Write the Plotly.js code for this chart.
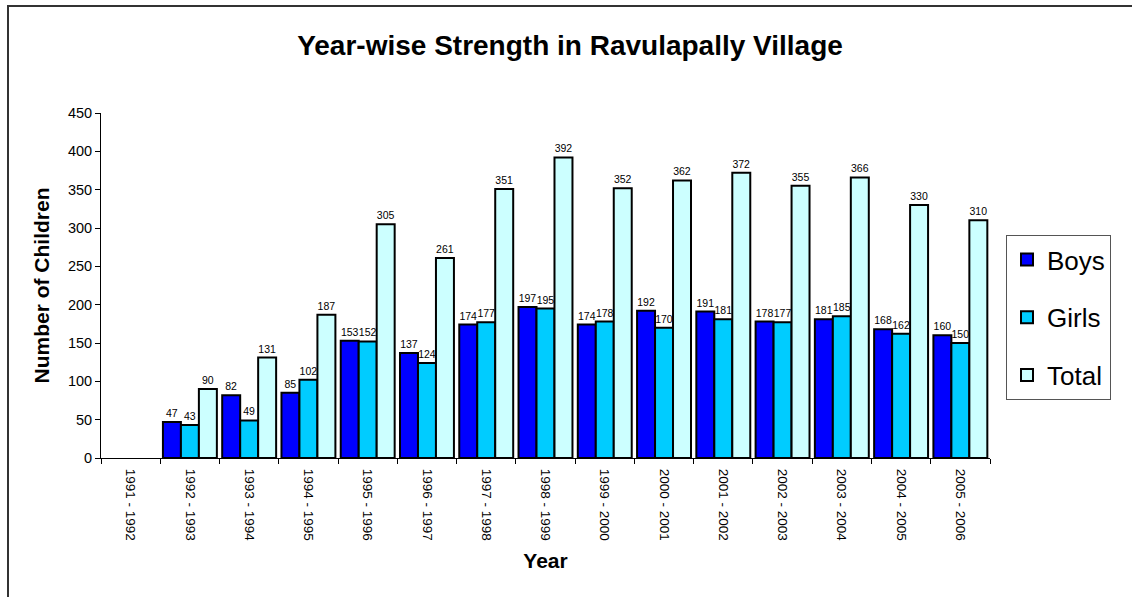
<!DOCTYPE html>
<html>
<head>
<meta charset="utf-8">
<script src="https://cdn.plot.ly/plotly-3.0.1.min.js"></script>
<style>html,body{margin:0;padding:0;background:#fff;}#chart{width:1132px;height:597px;}</style>
</head>
<body>
<div id="chart"></div>
<script>
const years = ["1991 - 1992","1992 - 1993","1993 - 1994","1994 - 1995","1995 - 1996","1996 - 1997","1997 - 1998","1998 - 1999","1999 - 2000","2000 - 2001","2001 - 2002","2002 - 2003","2003 - 2004","2004 - 2005","2005 - 2006"];
const boys  = [null,47,82,85,153,137,174,197,174,192,191,178,181,168,160];
const girls = [null,43,49,102,152,124,177,195,178,170,181,177,185,162,150];
const total = [null,90,131,187,305,261,351,392,352,362,372,355,366,330,310];

const L = 101, R = 990, T = 113, B = 458;
const W = R - L, H = B - T;
function px(x){ return (x - L) / W; }
function py(y){ return (B - y) / H; }

function mk(name, vals, color, grp){
  return {
    type: 'bar', name: name, x: years, y: vals, legendgroup: grp,
    marker: {color: color, line: {color: '#000', width: 2}},
    text: vals.map(v => v === null ? '' : String(v)),
    textposition: 'outside', textangle: 0, cliponaxis: false,
    textfont: {family: 'Arial, Liberation Sans, sans-serif', size: 10.5, color: '#000'},
    hoverinfo: 'none'
  };
}
const data = [
  mk('Boys', boys, '#0000FF', 'a'),
  mk('Girls', girls, '#00CCFF', 'b'),
  mk('Total', total, '#CCFFFF', 'c')
];

const layout = {
  width: 1132, height: 597,
  margin: {l: L, r: 1132 - R, t: T, b: 597 - B, pad: 0},
  paper_bgcolor: '#fff', plot_bgcolor: '#fff',
  font: {family: 'Arial, Liberation Sans, sans-serif', color: '#000'},
  barmode: 'group', bargap: 0.09, bargroupgap: 0,
  title: {text: '<b>Year-wise Strength in Ravulapally Village</b>', x: px(570), xref: 'paper', xanchor: 'center', y: 1 - 45/597, yanchor: 'middle', yref: 'container', font: {size: 28, color: '#000'}},
  xaxis: {
    type: 'category', tickson: 'boundaries', tickangle: 90, ticks: 'outside', ticklen: 5, tickcolor: '#000',
    ticklabelstandoff: 7,
    showline: true, linecolor: '#000', linewidth: 1, showgrid: false, zeroline: false,
    tickfont: {size: 13.5, color: '#000'},
    title: {text: '<b>Year</b>', font: {size: 21, color: '#000'}, standoff: 13}
  },
  yaxis: {
    range: [0, 450], dtick: 50, ticks: 'outside', ticklen: 5, tickcolor: '#000',
    showline: true, linecolor: '#000', linewidth: 1, showgrid: false, zeroline: false,
    tickfont: {size: 14.5, color: '#000'},
    title: {text: '<b>Number of Children</b>', font: {size: 21, color: '#000'}, standoff: 12}
  },
  showlegend: true,
  legend: {
    x: px(1006), y: py(235), xanchor: 'left', yanchor: 'top',
    bordercolor: '#555', borderwidth: 1, bgcolor: '#fff',
    font: {size: 26, color: '#000'}, traceorder: 'grouped', tracegroupgap: 21,
    itemwidth: 30, entrywidth: 110
  },
  shapes: [
    {type: 'rect', xref: 'paper', yref: 'paper', x0: px(8), x1: px(1200), y0: py(6), y1: py(700), line: {color: '#333', width: 2}, fillcolor: 'rgba(0,0,0,0)', layer: 'below'}
  ]
};

Plotly.newPlot('chart', data, layout, {displayModeBar: false, staticPlot: true});
</script>
</body>
</html>
